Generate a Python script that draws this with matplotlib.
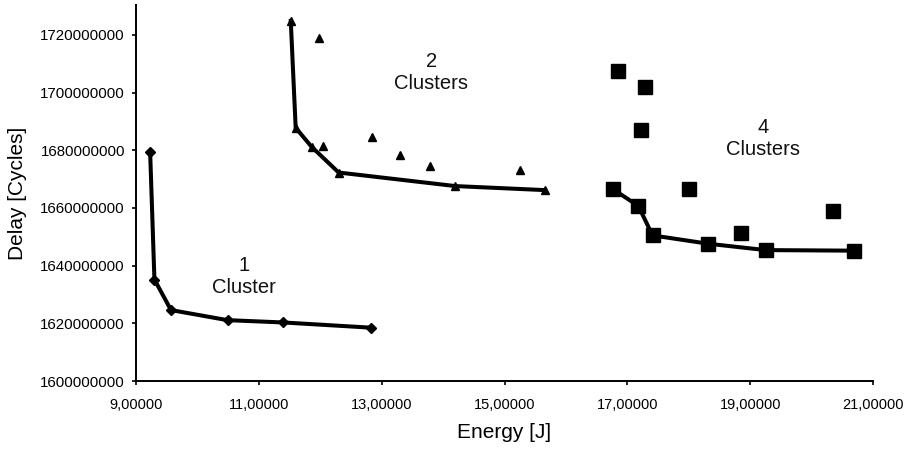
import matplotlib
matplotlib.use("Agg")
import matplotlib.pyplot as plt
from matplotlib.ticker import FuncFormatter

plt.rcParams['font.family'] = ['Liberation Sans', 'DejaVu Sans']

# 1 cluster: Pareto front
c1_front_energy = [9.23, 9.30, 9.57, 10.49, 11.40, 12.82]
c1_front_delay = [1679500000, 1635200000, 1624600000, 1621100000, 1620300000, 1618500000]

# 2 clusters: Pareto front and remaining configurations
c2_front_energy = [11.52, 11.60, 11.86, 12.30, 14.20, 15.66]
c2_front_delay = [1724900000, 1687800000, 1681200000, 1672300000, 1667600000, 1666200000]
c2_other_energy = [11.98, 12.04, 12.85, 13.30, 13.79, 15.25]
c2_other_delay = [1718800000, 1681500000, 1684700000, 1678300000, 1674500000, 1673100000]

# 4 clusters: Pareto front and remaining configurations
c4_front_energy = [16.76, 17.18, 17.41, 18.32, 19.25, 20.69]
c4_front_delay = [1666600000, 1660700000, 1650500000, 1647600000, 1645400000, 1645200000]
c4_other_energy = [16.85, 17.29, 17.22, 18.00, 18.85, 20.35]
c4_other_delay = [1707600000, 1702000000, 1687000000, 1666600000, 1651500000, 1658900000]

x_ticks = [9, 11, 13, 15, 17, 19, 21]
y_ticks = [1600000000, 1620000000, 1640000000, 1660000000, 1680000000, 1700000000, 1720000000]

labels = ["1\nCluster", "2\nClusters", "4\nClusters"]
label_energy = [10.76, 13.81, 19.21]
label_delay = [1636400000, 1707100000, 1684200000]

fig = plt.figure(figsize=(9.16, 4.51), dpi=100)
ax = fig.add_axes([0.14847, 0.15521, 0.80459, 0.8337])

lw = 2.9
ax.plot(c1_front_energy, c1_front_delay, color='black', lw=lw, marker='D',
        markersize=5, solid_joinstyle='miter')
ax.plot(c2_front_energy, c2_front_delay, color='black', lw=lw, marker='^',
        markersize=6, solid_joinstyle='miter')
ax.plot(c2_other_energy, c2_other_delay, color='black', lw=0, marker='^',
        markersize=6)
ax.plot(c4_front_energy, c4_front_delay, color='black', lw=lw, marker='s',
        markersize=10)
ax.plot(c4_other_energy, c4_other_delay, color='black', lw=0, marker='s',
        markersize=10)

for txt, ex, dy in zip(labels, label_energy, label_delay):
    ax.text(ex, dy, txt, ha='center', va='center', fontsize=14.5, color='#111111',
            linespacing=1.2)

ax.set_xlim(9, 21)
ax.set_ylim(1600000000, 1730400000)
ax.set_xticks(x_ticks)
ax.set_yticks(y_ticks)
ax.xaxis.set_major_formatter(FuncFormatter(lambda v, p: f"{v:.5f}".replace('.', ',')))
ax.yaxis.set_major_formatter(FuncFormatter(lambda v, p: f"{int(round(v))}"))

for side in ('top', 'right'):
    ax.spines[side].set_visible(False)
for side in ('left', 'bottom'):
    ax.spines[side].set_linewidth(1.4)
    ax.spines[side].set_color('black')

ax.tick_params(axis='x', direction='out', length=3, width=1.2, pad=9, labelsize=10.5)
ax.tick_params(axis='y', direction='out', length=3, width=1.2, pad=5, labelsize=10.8)

ax.set_xlabel("Energy [J]", fontsize=15)
ax.set_ylabel("Delay [Cycles]", fontsize=15)
ax.xaxis.set_label_coords(0.5, -0.112)
ax.yaxis.set_label_coords(-0.148, 0.5)

fig.savefig("out.png", dpi=100)
